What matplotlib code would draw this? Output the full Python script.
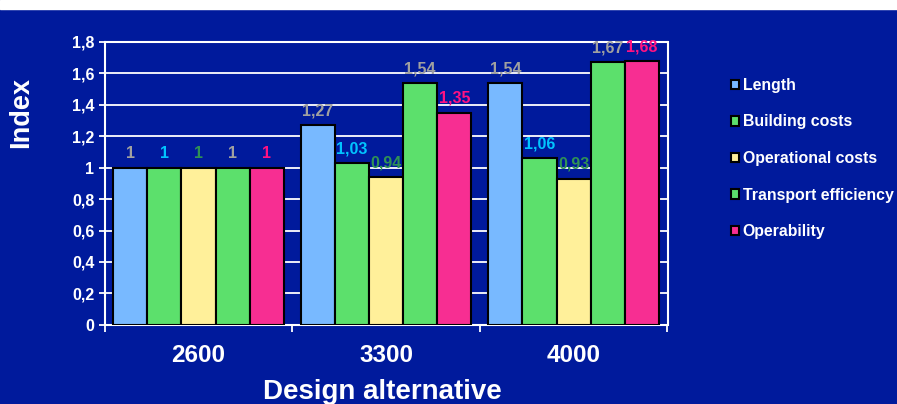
import matplotlib.pyplot as plt
import matplotlib.patches as mpatches
import numpy as np

# design alternatives and index values per criterion
alternatives = ['2600', '3300', '4000']
series_names = ['Length', 'Building costs', 'Operational costs',
                'Transport efficiency', 'Operability']
length = [1.00, 1.27, 1.54]
building_costs = [1.00, 1.03, 1.06]
operational_costs = [1.00, 0.94, 0.93]
transport_efficiency = [1.00, 1.54, 1.67]
operability = [1.00, 1.35, 1.68]

bar_colors = ['#78B9FF', '#5CE06C', '#FFF09A', '#5CE06C', '#F72E92']
label_colors = ['#A0A0A0', '#00C4FF', '#2F9155', '#A0A0A0', '#FF1282']
navy = '#001A9C'


def fmt(v):
    # comma as decimal separator, drop trailing zeros
    s = ('%.2f' % v).rstrip('0').rstrip('.')
    return s.replace('.', ',')


def main():
    plt.rcParams['font.family'] = ['Liberation Sans', 'DejaVu Sans']
    plt.rcParams['font.weight'] = 'bold'

    fig = plt.figure(figsize=(8.97, 4.04), dpi=100, facecolor=navy)
    ax = fig.add_axes([104.7 / 897, 1 - 324.8 / 404, (667.5 - 104.7) / 897, (324.8 - 42) / 404])
    ax.set_facecolor(navy)

    # white strip along the top edge
    fig.patches.append(mpatches.Rectangle((0, 1 - 9 / 404), 1, 9 / 404,
                                          transform=fig.transFigure, color='white', zorder=0))

    data = [length, building_costs, operational_costs, transport_efficiency, operability]
    x = np.arange(len(alternatives))
    w = 0.182
    handles = []
    for i, vals in enumerate(data):
        pos = x + (i - 2) * w
        bars = ax.bar(pos, vals, width=w, color=bar_colors[i], edgecolor='black',
                      linewidth=1.5, zorder=3, label=series_names[i])
        handles.append(bars)
        for p, v in zip(pos, vals):
            ax.annotate(fmt(v), (p, v), xytext=(0, 7), textcoords='offset points',
                        ha='center', va='baseline', color=label_colors[i],
                        fontsize=11.5, fontweight='bold', zorder=5)

    ax.set_xlim(-0.5, 2.5)
    ax.set_ylim(0, 1.8)
    yt = np.arange(0, 1.81, 0.2)
    ax.set_yticks(yt)
    ax.set_yticklabels([fmt(v) for v in yt])
    ax.set_xticks([-0.5, 0.5, 1.5, 2.5])
    ax.set_xticklabels([])
    ax.set_xticks(x, minor=True)
    ax.set_xticklabels(alternatives, minor=True)

    ax.grid(axis='y', color='white', linewidth=1.3, zorder=1)
    ax.set_axisbelow(True)
    for s in ax.spines.values():
        s.set_color('white')
        s.set_linewidth(1.5)

    ax.tick_params(axis='y', colors='white', length=4.5, width=1.3, pad=3, labelsize=11.5)
    ax.tick_params(axis='x', which='major', colors='white', length=5, width=1.3)
    ax.tick_params(axis='x', which='minor', length=0, pad=14, labelsize=17.5, labelcolor='white')

    fig.text(21 / 897, 1 - 113 / 404, 'Index', rotation=90, ha='center', va='center',
             color='white', fontsize=19.5, fontweight='bold')
    fig.text(382 / 897, 1 - 399 / 404, 'Design alternative', ha='center', va='baseline',
             color='white', fontsize=20, fontweight='bold')

    leg = fig.legend(handles=handles, loc='upper left', bbox_to_anchor=(723 / 897, 1 - 70 / 404),
                     frameon=False, borderpad=0, handlelength=0.53, handleheight=0.53,
                     handletextpad=0.21, labelspacing=1.36, fontsize=11.4)
    for t in leg.get_texts():
        t.set_color('white')
        t.set_fontweight('bold')

    fig.savefig('out.png', dpi=100, facecolor=navy)


if __name__ == '__main__':
    main()
